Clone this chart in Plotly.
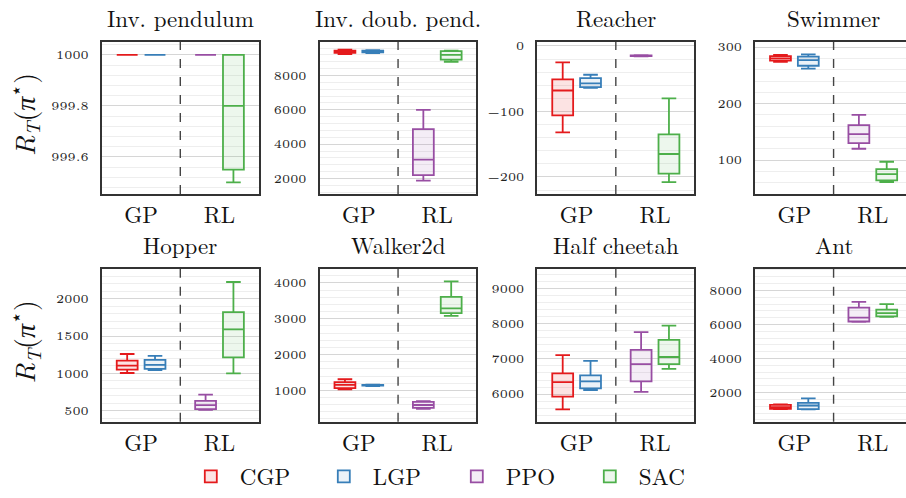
import plotly.graph_objects as go

envs = ["Inv. pendulum", "Inv. doub. pend.", "Reacher", "Swimmer",
        "Hopper", "Walker2d", "Half cheetah", "Ant"]
methods = ["CGP", "LGP", "PPO", "SAC"]
method_group = ["GP", "GP", "RL", "RL"]
categories = ["GP", "RL"]

# per env: [CGP, LGP, PPO, SAC]
whisker_lo = [
    [1000, 1000, 1000, 999.5],
    [9250, 9300, 1880, 8800],
    [-132, -64, -16, -208],
    [274, 262, 120, 61],
    [1005, 1045, 510, 1000],
    [1030, 1120, 480, 3080],
    [5565, 6110, 6065, 6720],
    [1030, 1020, 6160, 6440],
]
q1 = [
    [1000, 1000, 1000, 999.55],
    [9320, 9350, 2200, 8930],
    [-106, -63, -15.5, -195],
    [276, 267, 130, 64],
    [1050, 1060, 520, 1215],
    [1060, 1130, 510, 3155],
    [5925, 6165, 6360, 6850],
    [1050, 1030, 6175, 6470],
]
median = [
    [1000, 1000, 1000, 999.8],
    [9400, 9400, 3100, 9200],
    [-68, -57, -15, -165],
    [280, 277, 146, 75],
    [1105, 1115, 575, 1590],
    [1150, 1140, 590, 3290],
    [6340, 6360, 6850, 7055],
    [1150, 1240, 6400, 6660],
]
q3 = [
    [1000, 1000, 1000, 1000],
    [9450, 9450, 4880, 9420],
    [-51, -49, -14.5, -135],
    [284, 283, 162, 84],
    [1170, 1180, 630, 1820],
    [1230, 1150, 680, 3610],
    [6590, 6530, 7260, 7545],
    [1280, 1390, 6990, 6870],
]
whisker_hi = [
    [1000, 1000, 1000, 1000],
    [9500, 9480, 6000, 9450],
    [-25, -44, -14, -80],
    [286, 287, 180, 97],
    [1260, 1235, 715, 2225],
    [1310, 1160, 700, 4045],
    [7110, 6945, 7760, 7945],
    [1300, 1655, 7330, 7195],
]

y_ranges = [[999.455, 1000.05], [1100, 9950], [-226, 6], [40, 309],
            [350, 2400], [120, 4390], [5210, 9560], [280, 9260]]
y_dticks = [0.2, 2000, 100, 100, 500, 1000, 1000, 2000]

colors = ["#e41a1c", "#377eb8", "#984ea3", "#4daf4a"]
fills = ["rgba(228,26,28,0.12)", "rgba(55,126,184,0.10)",
         "rgba(152,78,163,0.10)", "rgba(77,175,74,0.10)"]

W, H = 914, 498
col_px = [(102, 259), (320, 477), (538, 695), (756, 913)]
row_px = [(37, 193), (270, 427)]

FONT = "'Latin Modern Roman', 'Liberation Serif', serif"
TICKFONT = "'LM Roman 5', 'Latin Modern Roman', 'Liberation Serif', serif"
fig = go.Figure()

for i, env in enumerate(envs):
    r, c = divmod(i, 4)
    ax = "" if i == 0 else str(i + 1)
    for k, m in enumerate(methods):
        fig.add_trace(go.Box(
            x=[method_group[k]],
            q1=[q1[i][k]], median=[median[i][k]], q3=[q3[i][k]],
            lowerfence=[whisker_lo[i][k]], upperfence=[whisker_hi[i][k]],
            name=m, legendgroup=m, showlegend=(i == 0),
            offsetgroup="a" if k in (0, 2) else "b",
            line=dict(color=colors[k], width=1.8),
            fillcolor=fills[k], whiskerwidth=0.7,
            boxpoints=False, hoverinfo="skip",
            xaxis="x" + ax, yaxis="y" + ax,
        ))
    x0, x1 = col_px[c]
    y0, y1 = row_px[r]
    fig.layout["xaxis" + ax] = dict(
        domain=[x0 / W, x1 / W], anchor="y" + ax,
        type="category", categoryorder="array", categoryarray=categories,
        range=[-0.5, 1.5], showgrid=False, zeroline=False,
        showline=True, mirror=True, linecolor="#333", linewidth=1.5,
        ticks="", tickfont=dict(family=FONT, size=23, color="#111"),
        ticklabelstandoff=0, fixedrange=True,
    )
    fig.layout["yaxis" + ax] = dict(
        domain=[1 - y1 / H, 1 - y0 / H], anchor="x" + ax,
        range=y_ranges[i], dtick=y_dticks[i], tick0=0,
        tickformat="" if i == 0 else "d",
        showgrid=True, gridcolor="#d6d6d6", gridwidth=1,
        minor=dict(dtick=y_dticks[i] / 5, tick0=0, showgrid=True,
                   gridcolor="#eeeeee", gridwidth=1),
        zeroline=False, showline=True, mirror=True, linecolor="#333",
        linewidth=1.5, ticks="", ticklabelstandoff=9,
        tickfont=dict(family=TICKFONT, size=12, color="#222"), fixedrange=True,
    )
    fig.add_shape(type="line", xref="x" + ax, yref="y" + ax + " domain",
                  x0=0.5, x1=0.5, y0=0, y1=1,
                  line=dict(color="#444", width=1.4, dash="dash"))
    fig.add_annotation(text=env, xref="paper", yref="paper",
                       x=(x0 + x1) / 2 / W,
                       y=1 - (y0 - 6) / H, xanchor="center", yanchor="bottom",
                       showarrow=False,
                       font=dict(family=FONT, size=23, color="#111"))

for r in range(2):
    y0, y1 = row_px[r]
    fig.add_annotation(
        text="<i>R</i><sub><i>T</i></sub>(<i>π</i><sup>⋆</sup>)",
        xref="paper", yref="paper", x=24 / W, y=1 - ((y0 + y1) / 2 - 4) / H,
        textangle=-90, showarrow=False, xanchor="center", yanchor="middle",
        font=dict(family=FONT, size=28, color="#111"))

fig.update_layout(
    width=W, height=H, margin=dict(l=0, r=0, t=0, b=0),
    paper_bgcolor="white", plot_bgcolor="white",
    font=dict(family=FONT),
    boxmode="group", boxgap=0.29, boxgroupgap=0.25,
    legend=dict(orientation="h", x=182 / W, xanchor="left",
                y=1 - 483 / H, yanchor="middle", bgcolor="rgba(0,0,0,0)",
                font=dict(family=FONT, size=23, color="#111"),
                itemwidth=48, entrywidth=70, entrywidthmode="pixels"),
)

fig.write_html(
    "out.html",
    config={"displayModeBar": False},
    post_script="document.body.style.margin='0';"
                "document.documentElement.style.overflow='hidden';"
                "document.body.style.overflow='hidden';",
)
